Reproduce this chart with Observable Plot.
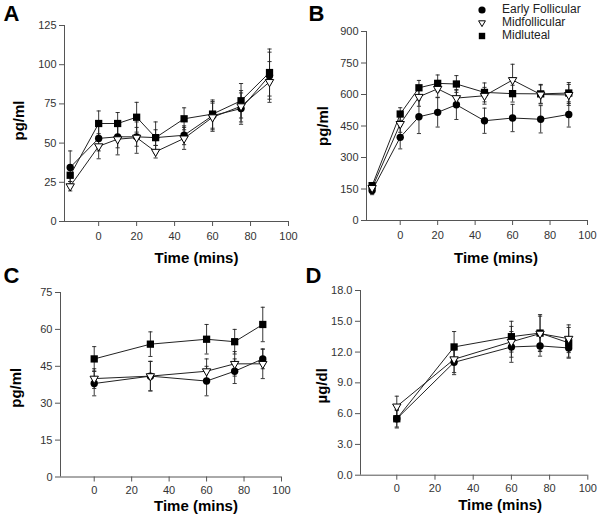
<!DOCTYPE html>
<html><head><meta charset="utf-8">
<script src="https://cdn.jsdelivr.net/npm/d3@7"></script>
<script src="https://cdn.jsdelivr.net/npm/@observablehq/plot@0.6"></script>
<style>
body{margin:0;background:#fff;}
#wrap{position:relative;width:600px;height:521px;overflow:hidden;font-family:"Liberation Sans",Arial,sans-serif;background:#fff;}
#wrap > svg{position:absolute;left:0;top:0;background:transparent;}
.legend{position:absolute;left:476px;top:3px;font-size:12px;color:#222;font-family:"Liberation Sans",Arial,sans-serif;}
.legend div{height:13px;line-height:13px;display:flex;align-items:center;}
.legend svg{width:12px;height:12px;margin-right:14px;}
</style></head><body><div id="wrap"></div>
<script>
// ---------- data ----------
const seriesNames = ["Early Follicular", "Midfollicular", "Midluteal"];
const panelLetters = ["A", "B", "C", "D"];
const yTitles = ["pg/ml", "pg/ml", "pg/ml", "µg/dl"];
const xTitle = "Time (mins)";
const xTicks = [0, 20, 40, 60, 80, 100];

// Panel A
const timesA = [-15, 0, 10, 20, 30, 45, 60, 75, 90];
const aEarly = [34.5, 53, 54, 54, 53.5, 55, 67.5, 72, 93];
const aEarlyErr = [10.5, 8, 7, 6, 5, 6, 9, 10, 15];
const aMid = [22.5, 48, 52.5, 53.5, 44.5, 53, 66.5, 73.5, 89];
const aMidErr = [3, 8, 10, 10, 4, 7, 9, 10, 13];
const aLut = [29.5, 62.5, 62.5, 66.5, 53.5, 65.5, 68.5, 77, 95];
const aLutErr = [4, 8, 7, 9.5, 10, 7, 9, 11, 15];
const yTicksA = [0, 25, 50, 75, 100, 125];

// Panel B
const timesB = [-15, 0, 10, 20, 30, 45, 60, 75, 90];
const bEarly = [143, 396, 494, 515, 551, 475, 488, 482, 505];
const bEarlyErr = [20, 55, 80, 70, 70, 60, 65, 65, 60];
const bMid = [155, 460, 589, 627, 583, 594, 669, 600, 598];
const bMidErr = [15, 40, 45, 40, 40, 40, 75, 45, 50];
const bLut = [166, 507, 632, 653, 650, 610, 604, 603, 607];
const bLutErr = [15, 30, 35, 40, 40, 45, 40, 45, 50];
const yTicksB = [0, 150, 300, 450, 600, 750, 900];

// Panel C
const timesC = [0, 30, 60, 75, 90];
const cEarly = [38, 41, 39, 43, 48];
const cEarlyErr = [5, 6, 6, 5, 4];
const cMid = [40, 41, 43, 46, 46];
const cMidErr = [4, 6, 5, 5, 6];
const cLut = [48, 54, 56, 55, 62];
const cLutErr = [5, 5, 6, 5, 7];
const yTicksC = [0, 15, 30, 45, 60, 75];

// Panel D
const timesD = [0, 30, 60, 75, 90];
const dEarly = [5.5, 11.0, 12.5, 12.6, 12.4];
const dEarlyErr = [0.9, 1.2, 1.5, 1.0, 0.9];
const dMid = [6.7, 11.3, 13.0, 13.8, 13.3];
const dMidErr = [1.0, 1.3, 1.5, 1.7, 1.35];
const dLut = [5.5, 12.5, 13.5, 13.85, 12.9];
const dLutErr = [0.8, 1.5, 1.5, 1.8, 1.5];
const yTicksD = [0, 3, 6, 9, 12, 15, 18];

// ---------- drawing ----------
const W = 600, H = 521;
const ink = "#222";
const axisInk = "#555";

function rowsOf(times, vals, errs, name) {
  return times.map((t, i) => ({series: name, x: t, y: vals[i], e: errs[i]}));
}

function panel(cfg) {
  const rows = [
    ...rowsOf(cfg.times, cfg.early, cfg.earlyErr, seriesNames[0]),
    ...rowsOf(cfg.times, cfg.mid, cfg.midErr, seriesNames[1]),
    ...rowsOf(cfg.times, cfg.lut, cfg.lutErr, seriesNames[2])
  ];
  const cap = 1.1;
  const bySeries = (k) => rows.filter(d => d.series === seriesNames[k]);
  return Plot.plot({
    width: W, height: H,
    marginLeft: cfg.m[0], marginRight: cfg.m[1], marginTop: cfg.m[2], marginBottom: cfg.m[3],
    style: {fontFamily: "'Liberation Sans', Arial, sans-serif", fontSize: "11px", color: "#333", background: "transparent", overflow: "visible"},
    x: {domain: cfg.xDomain},
    y: {domain: [cfg.yTicks[0], cfg.yTicks[cfg.yTicks.length - 1]]},
    marks: [
      Plot.ruleY([cfg.yTicks[0]], {stroke: axisInk}),
      Plot.ruleX([cfg.xDomain[0]], {stroke: axisInk}),
      Plot.axisX({ticks: xTicks, tickSize: 5, tickPadding: cfg.xPad, label: null, stroke: axisInk, fill: "#333"}),
      Plot.axisY({ticks: cfg.yTicks, tickSize: 5, tickPadding: 3, label: null, stroke: axisInk, fill: "#333", tickFormat: cfg.yFormat}),
      Plot.line(rows, {x: "x", y: "y", z: "series", stroke: ink, strokeWidth: 1}),
      Plot.ruleX(rows, {x: "x", y1: d => d.y - d.e, y2: d => d.y + d.e, stroke: ink, strokeWidth: 0.9}),
      Plot.link(rows, {x1: d => d.x - cap, x2: d => d.x + cap, y1: d => d.y + d.e, y2: d => d.y + d.e, stroke: ink, strokeWidth: 0.9}),
      Plot.link(rows, {x1: d => d.x - cap, x2: d => d.x + cap, y1: d => d.y - d.e, y2: d => d.y - d.e, stroke: ink, strokeWidth: 0.9}),
      Plot.dot(bySeries(2), {x: "x", y: "y", symbol: "square", r: 4.1, fill: "#000", stroke: "none"}),
      Plot.dot(bySeries(0), {x: "x", y: "y", symbol: "circle", r: 3.7, fill: "#000", stroke: "none"}),
      Plot.dot(bySeries(1), {x: "x", y: "y", symbol: "triangle", r: 3.1, rotate: 180, fill: "#fff", stroke: "#000", strokeWidth: 1}),
      Plot.text([cfg.letter], {frameAnchor: "top-left", dx: cfg.letterD[0], dy: cfg.letterD[1], textAnchor: "start", lineAnchor: "top", fontSize: 22, fontWeight: "bold", fill: "#000"}),
      Plot.text([cfg.ylabel], {frameAnchor: "left", dx: cfg.ylabD[0], dy: cfg.ylabD[1], rotate: -90, textAnchor: "middle", lineAnchor: "middle", fontSize: 15, fontWeight: "bold", fill: "#000"}),
      Plot.text([xTitle], {frameAnchor: "bottom", dx: cfg.xlabD[0], dy: cfg.xlabD[1], textAnchor: "middle", lineAnchor: "middle", fontSize: 15, fontWeight: "bold", fill: "#000"})
    ]
  });
}

const wrap = document.getElementById("wrap");
const f1 = d3.format(".1f");

wrap.append(panel({times: timesA, early: aEarly, earlyErr: aEarlyErr, mid: aMid, midErr: aMidErr, lut: aLut, lutErr: aLutErr,
  xDomain: [-18, 100], yTicks: yTicksA, m: [64, 312, 25, 300], letter: panelLetters[0], xPad: 6,
  ylabel: yTitles[0], letterD: [-61, -20], ylabD: [-45, -3], xlabD: [20, 37]}));
wrap.append(panel({times: timesB, early: bEarly, earlyErr: bEarlyErr, mid: bMid, midErr: bMidErr, lut: bLut, lutErr: bLutErr,
  xDomain: [-18, 100], yTicks: yTicksB, m: [366, 13, 31, 301], letter: panelLetters[1], xPad: 6,
  ylabel: yTitles[1], letterD: [-58, -26], ylabD: [-43, 0], xlabD: [19, 38]}));
wrap.append(panel({times: timesC, early: cEarly, earlyErr: cEarlyErr, mid: cMid, midErr: cMidErr, lut: cLut, lutErr: cLutErr,
  xDomain: [-18, 100], yTicks: yTicksC, m: [60, 319, 292, 44.5], letter: panelLetters[2], xPad: 4,
  ylabel: yTitles[2], letterD: [-57, -25], ylabD: [-44, 3], xlabD: [25, 29.5]}));
wrap.append(panel({times: timesD, early: dEarly, earlyErr: dEarlyErr, mid: dMid, midErr: dMidErr, lut: dLut, lutErr: dLutErr,
  xDomain: [-19, 100], yTicks: yTicksD, yFormat: f1, m: [360, 12.7, 290, 46.3], letter: panelLetters[3], xPad: 4,
  ylabel: yTitles[3], letterD: [-55, -23], ylabD: [-38, 3], xlabD: [26, 29.5]}));

// legend
const legend = document.createElement("div");
legend.className = "legend";
const legendSymbols = [
  '<svg viewBox="-6 -6 12 12"><circle r="3.6" fill="#000"/></svg>',
  '<svg viewBox="-6 -6 12 12"><path d="M-3.4,-2.2L3.4,-2.2L0,3.6Z" fill="#fff" stroke="#000" stroke-width="1"/></svg>',
  '<svg viewBox="-6 -6 12 12"><rect x="-3.2" y="-3.2" width="6.4" height="6.4" fill="#000"/></svg>'
];
seriesNames.forEach((name, i) => {
  const row = document.createElement("div");
  row.innerHTML = legendSymbols[i] + "<span>" + name + "</span>";
  legend.append(row);
});
wrap.append(legend);
</script></body></html>
